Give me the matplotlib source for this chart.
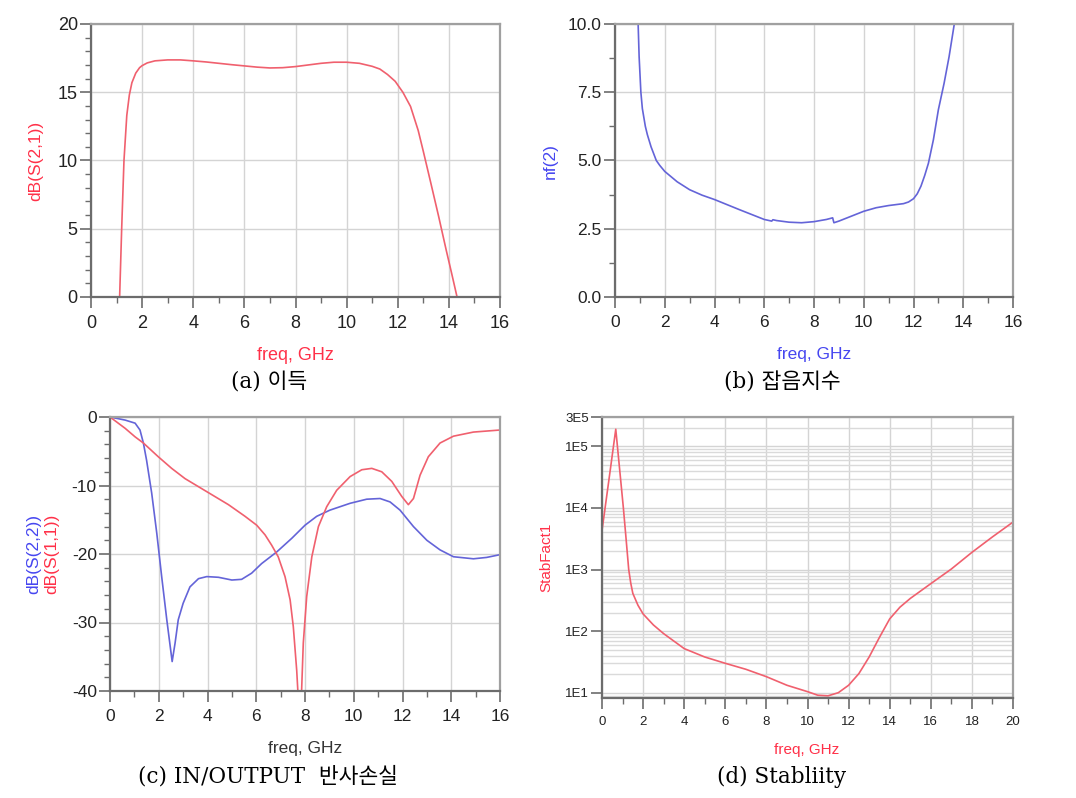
import matplotlib.pyplot as plt
from matplotlib.ticker import MultipleLocator, FixedLocator, LogLocator, NullFormatter

plt.rcParams['axes.unicode_minus'] = False

# (a) gain, dB(S(2,1))
s21_f = [1.12, 1.2, 1.29, 1.4, 1.5, 1.6, 1.75, 1.9, 2.0, 2.2, 2.5, 3.0, 3.5, 4.0, 4.5, 5.0,
         5.5, 6.0, 6.5, 7.0, 7.5, 8.0, 8.5, 9.0, 9.5, 10.0, 10.5, 11.0, 11.3, 11.6, 11.9,
         12.2, 12.5, 12.8, 13.0, 13.3, 13.6, 13.9, 14.1, 14.32]
s21_db = [0.0, 5.0, 10.0, 13.3, 14.8, 15.7, 16.4, 16.8, 16.95, 17.15, 17.3, 17.37, 17.37,
          17.3, 17.22, 17.12, 17.02, 16.93, 16.84, 16.78, 16.8, 16.88, 17.0, 17.12, 17.2,
          17.2, 17.12, 16.9, 16.7, 16.3, 15.8, 15.0, 13.96, 12.2, 10.67, 8.3, 5.9, 3.4,
          1.8, 0.0]

# (b) noise figure, nf(2)
nf_f = [0.93, 0.97, 1.04, 1.1, 1.22, 1.3, 1.45, 1.66, 1.8, 2.0, 2.5, 3.0, 3.5, 4.0, 5.0,
        6.0, 6.3, 6.35, 6.5, 7.0, 7.5, 8.0, 8.5, 8.75, 8.8, 9.0, 9.5, 10.0, 10.5, 11.0,
        11.6, 11.8, 12.0, 12.15, 12.3, 12.45, 12.6, 12.8, 13.0, 13.23, 13.43, 13.64]
nf = [10.0, 8.8, 7.5, 6.9, 6.25, 5.95, 5.5, 5.0, 4.82, 4.6, 4.22, 3.93, 3.73, 3.57, 3.2,
      2.84, 2.78, 2.83, 2.8, 2.74, 2.72, 2.76, 2.84, 2.9, 2.72, 2.78, 2.96, 3.14, 3.27,
      3.35, 3.42, 3.48, 3.6, 3.78, 4.06, 4.45, 4.9, 5.76, 6.86, 7.83, 8.8, 10.0]

# (c) return loss, dB(S(2,2)) and dB(S(1,1))
s22_f = [0, 0.62, 1.03, 1.23, 1.37, 1.5, 1.71, 1.92, 2.12, 2.33, 2.55, 2.67, 2.8, 3.0, 3.28,
         3.63, 3.97, 4.45, 5.0, 5.4, 5.81, 6.22, 6.84, 7.46, 8.0, 8.48, 9.02, 9.85, 10.53,
         11.08, 11.49, 11.9, 12.45, 13.0, 13.54, 14.09, 14.91, 15.45, 16.0]
s22_db = [0, -0.45, -0.9, -1.9, -3.8, -6.3, -11.1, -17.0, -23.3, -29.6, -35.7, -33.0,
          -29.6, -27.2, -24.8, -23.6, -23.3, -23.4, -23.8, -23.7, -22.8, -21.4, -19.7,
          -17.7, -15.8, -14.5, -13.6, -12.6, -12.0, -11.9, -12.4, -13.6, -16.0, -18.0,
          -19.4, -20.4, -20.7, -20.5, -20.1]
s11_f = [0, 0.62, 1.03, 1.37, 1.98, 2.53, 3.08, 3.97, 4.86, 5.54, 6.02, 6.36, 6.63, 6.9,
         7.18, 7.39, 7.52, 7.66, 7.8, 7.93, 8.07, 8.28, 8.55, 8.89, 9.3, 9.85, 10.33,
         10.74, 11.15, 11.56, 11.97, 12.24, 12.45, 12.72, 13.06, 13.54, 14.09, 14.91, 16.0]
s11_db = [0, -1.65, -2.9, -3.8, -5.8, -7.5, -9.0, -10.9, -12.8, -14.5, -15.8, -17.2, -18.7,
          -20.4, -23.3, -26.7, -30.6, -37.0, -46.0, -33.0, -26.2, -20.4, -16.0, -13.1,
          -10.7, -8.7, -7.7, -7.5, -8.0, -9.4, -11.6, -12.8, -11.9, -8.5, -5.8, -3.8, -2.8,
          -2.2, -1.9]

# (d) stability factor
k_f = [0, 0.33, 0.67, 1.04, 1.17, 1.3, 1.4, 1.5, 1.75, 2, 2.5, 3, 4, 5, 6, 7, 8, 9, 10,
       10.5, 11, 11.5, 12, 12.5, 13, 13.5, 14, 14.5, 15, 16, 17, 18, 19, 20]
k_val = [4300, 27500, 190000, 10000, 3200, 1000, 600, 410, 263, 190, 126, 91, 52, 38, 30,
         24, 18.2, 13.2, 10.4, 9.1, 8.9, 10, 13.2, 20.4, 38, 79, 158, 245, 339, 590, 1020,
         1900, 3390, 5900]
k_ticks = [10, 100, 1e3, 1e4, 1e5, 3e5]
k_labels = ['1E1', '1E2', '1E3', '1E4', '1E5', '3E5']

W, H = 1076, 798
RED = '#f0606e'
BLUE = '#6464d8'
RED_TXT = '#ff3048'
BLUE_TXT = '#4646f0'
SANS = 'Liberation Sans'
TITLE_FONT = ['DejaVu Serif', 'Noto Sans CJK KR']

fig = plt.figure(figsize=(W / 100, H / 100), dpi=100)


def box(l, t, r, b):
    return [l / W, 1 - b / H, (r - l) / W, (b - t) / H]


def style(ax, fs):
    ax.set_facecolor('white')
    for s in ['left', 'bottom']:
        ax.spines[s].set_color('#6c6c6c')
        ax.spines[s].set_linewidth(1.6)
    for s in ['top', 'right']:
        ax.spines[s].set_color('#a0a0a0')
        ax.spines[s].set_linewidth(1.6)
    ax.tick_params(which='major', direction='out', length=8, width=1.2, color='#6c6c6c',
                   labelsize=fs, labelcolor='#222222', top=False, right=False)
    ax.tick_params(which='minor', direction='out', length=4.5, width=1.0, color='#6c6c6c',
                   top=False, right=False)
    ax.tick_params(axis='y', which='major', pad=1.5)
    ax.tick_params(axis='x', which='major', pad=5)
    for lab in ax.get_xticklabels() + ax.get_yticklabels():
        lab.set_family(SANS)
    ax.grid(True, which='major', color='#d4d4d4', linewidth=1.0)
    ax.set_axisbelow(True)


def ftext(x, y, s, **kw):
    fig.text(x / W, 1 - y / H, s, ha='center', va='center', **kw)


# (a)
ax1 = fig.add_axes(box(91, 24, 500, 297))
ax1.plot(s21_f, s21_db, color=RED, lw=1.2)
ax1.set_xlim(0, 16)
ax1.set_ylim(0, 20)
ax1.xaxis.set_major_locator(MultipleLocator(2))
ax1.xaxis.set_minor_locator(MultipleLocator(1))
ax1.yaxis.set_major_locator(MultipleLocator(5))
ax1.yaxis.set_minor_locator(MultipleLocator(1))
style(ax1, 13)
ftext(36, 161, 'dB(S(2,1))', rotation=90, color=RED_TXT, fontsize=12.5, family=SANS)
ftext(295, 355, 'freq, GHz', color=RED_TXT, fontsize=13, family=SANS)
ftext(269, 383, '(a) 이득', fontsize=15.5, family=TITLE_FONT)

# (b)
ax2 = fig.add_axes(box(615, 24, 1013, 297))
ax2.plot(nf_f, nf, color=BLUE, lw=1.2)
ax2.set_xlim(0, 16)
ax2.set_ylim(0, 10)
ax2.xaxis.set_major_locator(MultipleLocator(2))
ax2.xaxis.set_minor_locator(MultipleLocator(1))
ax2.yaxis.set_major_locator(MultipleLocator(2.5))
ax2.yaxis.set_minor_locator(MultipleLocator(1.25))
ax2.yaxis.set_major_formatter(plt.FormatStrFormatter('%.1f'))
style(ax2, 12.5)
ftext(550, 161, 'nf(2)', rotation=90, color=BLUE_TXT, fontsize=12.5, family=SANS)
ftext(814, 355, 'freq, GHz', color=BLUE_TXT, fontsize=12.5, family=SANS)
ftext(782, 383, '(b) 잡음지수', fontsize=15.5, family=TITLE_FONT)

# (c)
ax3 = fig.add_axes(box(110, 417, 500, 691))
ax3.plot(s22_f, s22_db, color=BLUE, lw=1.2)
ax3.plot(s11_f, s11_db, color=RED, lw=1.2)
ax3.set_xlim(0, 16)
ax3.set_ylim(-40, 0)
ax3.xaxis.set_major_locator(MultipleLocator(2))
ax3.xaxis.set_minor_locator(MultipleLocator(1))
ax3.yaxis.set_major_locator(MultipleLocator(10))
ax3.yaxis.set_minor_locator(MultipleLocator(2))
style(ax3, 12.5)
ftext(34, 554, 'dB(S(2,2))', rotation=90, color=BLUE_TXT, fontsize=12.5, family=SANS)
ftext(52, 554, 'dB(S(1,1))', rotation=90, color=RED_TXT, fontsize=12.5, family=SANS)
ftext(305, 748, 'freq, GHz', color='#333333', fontsize=12.5, family=SANS)
ftext(268, 776, '(c) IN/OUTPUT  반사손실', fontsize=15.5, family=TITLE_FONT)

# (d)
ax4 = fig.add_axes(box(602, 417, 1013, 698))
ax4.plot(k_f, k_val, color=RED, lw=1.2)
ax4.set_yscale('log')
ax4.set_xlim(0, 20)
ax4.set_ylim(8.2, 3e5)
ax4.xaxis.set_major_locator(MultipleLocator(2))
ax4.xaxis.set_minor_locator(MultipleLocator(1))
ax4.yaxis.set_major_locator(FixedLocator(k_ticks))
ax4.yaxis.set_minor_locator(LogLocator(base=10, subs=[2, 3, 4, 5, 6, 7, 8, 9]))
ax4.yaxis.set_minor_formatter(NullFormatter())
ax4.set_yticklabels(k_labels)
style(ax4, 9.5)
ax4.tick_params(axis='y', which='minor', length=0)
ax4.grid(True, which='minor', axis='y', color='#dadada', linewidth=1.0)
ftext(546, 557, 'StabFact1', rotation=90, color=RED_TXT, fontsize=11, family=SANS)
ftext(807, 750, 'freq, GHz', color=RED_TXT, fontsize=11, family=SANS)
ftext(782, 777, '(d) Stabliity', fontsize=15.5, family=TITLE_FONT)

fig.savefig('out.png', dpi=100)
